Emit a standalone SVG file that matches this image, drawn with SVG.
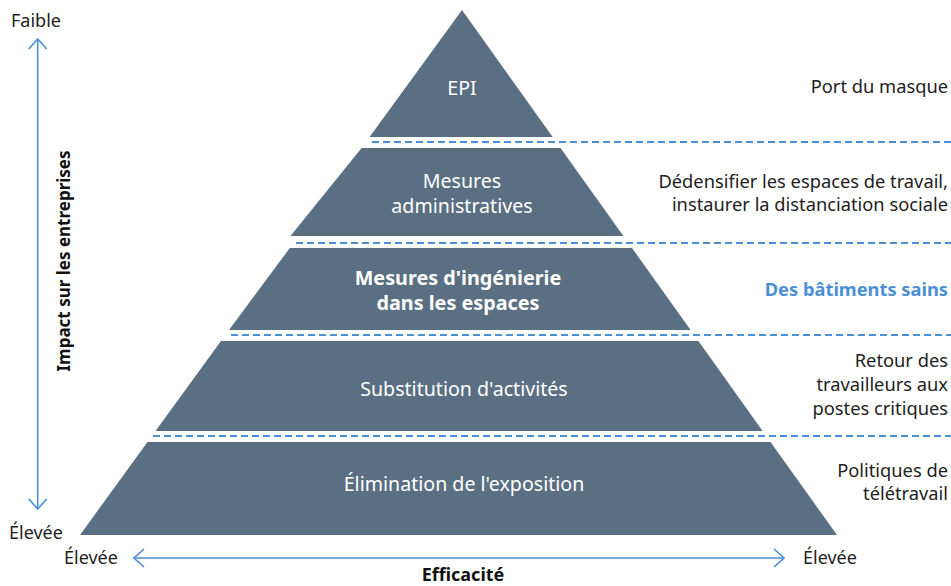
<svg xmlns="http://www.w3.org/2000/svg" width="951" height="586" viewBox="0 0 951 586">
<defs>
<style>
.tier{fill:#5a6f82;}
.tl{fill:#ffffff;font-family:"Noto Sans","Open Sans",sans-serif;font-size:19.6px;text-anchor:middle;}
.tb{font-weight:bold;font-size:19.8px;}
.rt{fill:#222222;font-family:"Noto Sans","Open Sans",sans-serif;font-size:18.3px;text-anchor:end;}
.ax{fill:#222222;font-family:"Noto Sans","Open Sans",sans-serif;font-size:18px;}
.axb{fill:#111111;font-family:"Noto Sans","Open Sans",sans-serif;font-size:18px;font-weight:bold;text-anchor:middle;}
.dash{stroke:#4a8fd6;stroke-width:2;stroke-dasharray:7 4;fill:none;}
.arr{stroke:#4a8fd6;stroke-width:1.6;fill:none;}
</style>
<marker id="chev" viewBox="0 0 12 20" refX="11" refY="10" markerWidth="12" markerHeight="20" markerUnits="userSpaceOnUse" orient="auto-start-reverse">
<path d="M1,1 L11,10 L1,19" fill="none" stroke="#4a8fd6" stroke-width="1.6"/>
</marker>
</defs>
<rect width="951" height="586" fill="#ffffff"/>

<g id="tier-epi">
<polygon class="tier" points="462,10 552.7,137 369.6,137"/>
<text class="tl" x="462" y="95">EPI</text>
</g>
<g id="tier-admin">
<polygon class="tier" points="361.6,148 560.5,148 623.4,236 290.5,236"/>
<text class="tl" x="462" y="187.5">Mesures<tspan x="462" dy="25">administratives</tspan></text>
</g>
<g id="tier-ingenierie">
<polygon class="tier" points="289.8,248 632,248 690.6,330 229,330"/>
<text class="tl tb" x="458" y="285">Mesures d'ingénierie<tspan x="458" dy="25">dans les espaces</tspan></text>
</g>
<g id="tier-substitution">
<polygon class="tier" points="221,341 698.4,341 762.6,431 155.5,431"/>
<text class="tl" x="464" y="396">Substitution d'activités</text>
</g>
<g id="tier-elimination">
<polygon class="tier" points="147.5,442 770.5,442 837,535 80,535"/>
<text class="tl" x="464" y="491">Élimination de l'exposition</text>
</g>

<g id="labels-right">
<text class="rt" x="948" y="93">Port du masque</text>
<text class="rt" x="948" y="188">Dédensifier les espaces de travail,<tspan x="948" dy="23">instaurer la distanciation sociale</tspan></text>
<text class="rt" x="948" y="296" style="fill:#4a8fd6;font-weight:bold">Des bâtiments sains</text>
<text class="rt" x="948" y="367">Retour des<tspan x="948" dy="24">travailleurs aux</tspan><tspan x="948" dy="24">postes critiques</tspan></text>
<text class="rt" x="948" y="477">Politiques de<tspan x="948" dy="23">télétravail</tspan></text>
</g>

<g id="connectors">
<line class="dash" x1="372" y1="142" x2="951" y2="142"/>
<line class="dash" x1="296" y1="243" x2="951" y2="243"/>
<line class="dash" x1="231" y1="335" x2="951" y2="335"/>
<line class="dash" x1="153" y1="436" x2="951" y2="436"/>
<line class="arr" x1="37.7" y1="39" x2="37.7" y2="509" marker-start="url(#chev)" marker-end="url(#chev)"/>
<line class="arr" x1="134" y1="558" x2="784" y2="558" marker-start="url(#chev)" marker-end="url(#chev)"/>
</g>

<g id="axis-labels">
<text class="ax" x="11" y="27">Faible</text>
<text class="ax" x="9" y="539">Élevée</text>
<text class="ax" x="64" y="564">Élevée</text>
<text class="ax" x="803" y="564">Élevée</text>
<text class="axb" x="463" y="581">Efficacité</text>
<text class="axb" style="font-size:17px" transform="translate(70,261) rotate(-90)" x="0" y="0">Impact sur les entreprises</text>
</g>
</svg>
